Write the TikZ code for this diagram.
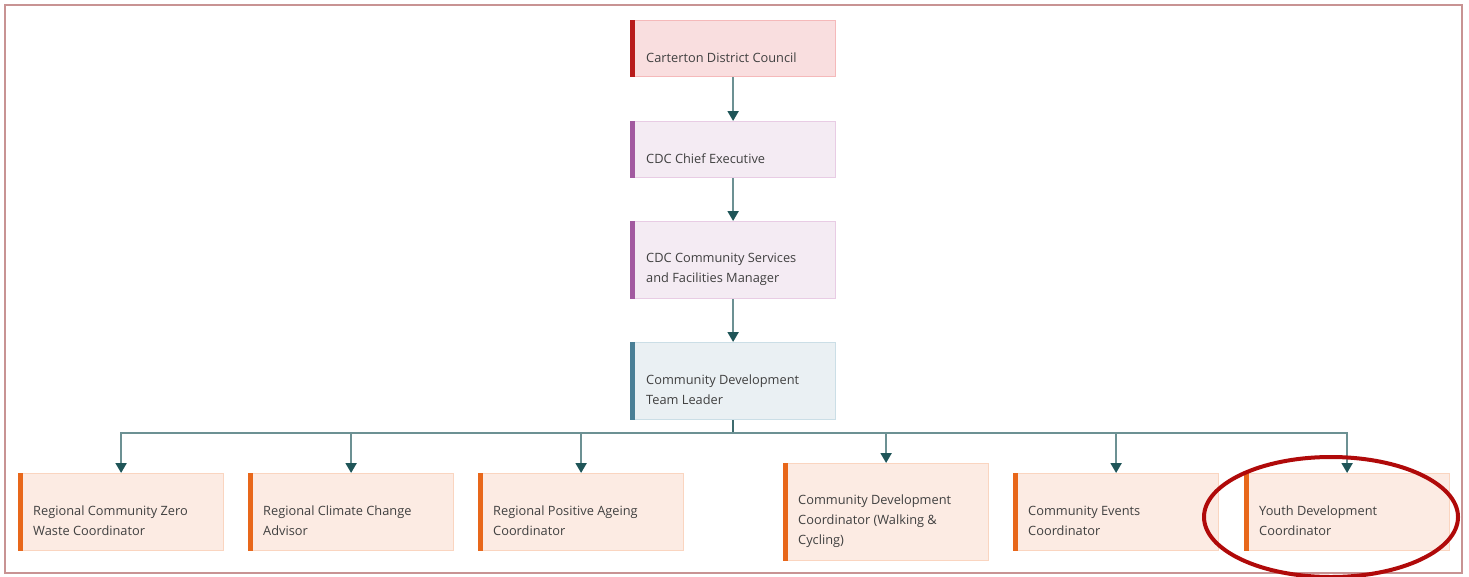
\documentclass[tikz,border=0pt]{standalone}
\usepackage{fontspec}
\setmainfont{Open Sans}
\usetikzlibrary{arrows.meta,calc}
\definecolor{txt}{HTML}{404040}
\definecolor{frameC}{HTML}{C89393}
\definecolor{lineC}{HTML}{6C9193}
\definecolor{tipC}{HTML}{1F5558}
\definecolor{busC}{HTML}{3E6B6E}
\definecolor{redF}{HTML}{F9DEDF}\definecolor{redD}{HTML}{F5B9BA}\definecolor{redB}{HTML}{B81C1C}
\definecolor{purF}{HTML}{F4EBF3}\definecolor{purD}{HTML}{E8CCE4}\definecolor{purB}{HTML}{A25AA0}
\definecolor{bluF}{HTML}{EAF0F3}\definecolor{bluD}{HTML}{CBDEE6}\definecolor{bluB}{HTML}{4A7F96}
\definecolor{orF}{HTML}{FCEBE3}\definecolor{orD}{HTML}{FAD5C0}\definecolor{orB}{HTML}{E8671A}
\definecolor{ellC}{HTML}{B00A0A}
\begin{document}
\begin{tikzpicture}[x=1pt,y=-1pt,
  box/.style={rectangle,minimum width=205pt,minimum height=56pt,inner sep=0pt,anchor=north west,line width=1.2pt},
  rbox/.style={box,fill=redF,draw=redD},
  pbox/.style={box,fill=purF,draw=purD},
  bbox/.style={box,fill=bluF,draw=bluD},
  obox/.style={box,fill=orF,draw=orD},
  lbl/.style={anchor=west,align=left,inner sep=0pt,text=txt,font=\fontsize{12.8}{20}\selectfont},
  conn/.style={draw=lineC,line width=2pt,-{Triangle[length=10pt,width=11pt,color=tipC]}},
  busline/.style={draw=busC,line width=2pt}]
\useasboundingbox (0,0) rectangle (1469,576);
\fill[white] (0,0) rectangle (1469,576);
\draw[frameC,line width=2.5pt] (5,5) rectangle (1462,573);

% top chain
\node[rbox] (b1) at (630,20) {};
\node[pbox] (b2) at (630,121) {};
\node[pbox,minimum height=77pt] (b3) at (630,221) {};
\node[bbox,minimum height=77pt] (b4) at (630,342) {};

% bottom row
\node[obox,minimum height=77pt] (c1) at (18,473) {};
\node[obox,minimum height=77pt] (c2) at (248,473) {};
\node[obox,minimum height=77pt] (c3) at (478,473) {};
\node[obox,minimum height=97pt] (c4) at (783,463) {};
\node[obox,minimum height=77pt] (c5) at (1013,473) {};
\node[obox,minimum height=77pt] (c6) at (1244,473) {};

% colour bars
\fill[redB] (b1.north west) rectangle ([xshift=5pt]b1.south west);
\foreach \n in {b2,b3}{\fill[purB] (\n.north west) rectangle ([xshift=5pt]\n.south west);}
\fill[bluB] (b4.north west) rectangle ([xshift=5pt]b4.south west);
\foreach \n in {c1,c2,c3,c4,c5,c6}{\fill[orB] (\n.north west) rectangle ([xshift=5pt]\n.south west);}

% labels
\node[lbl] (t1) at ($(b1.west)+(16,9)$) {Carterton District Council};
\node[lbl] (t2) at ($(b2.west)+(16,9)$) {CDC Chief Executive};
\node[lbl] (t3) at ($(b3.west)+(16,9)$) {CDC Community Services\\and Facilities Manager};
\node[lbl] (t4) at ($(b4.west)+(16,9)$) {Community Development\\Team Leader};
\node[lbl] (u1) at ($(c1.west)+(15,9)$) {Regional Community Zero\\Waste Coordinator};
\node[lbl] (u2) at ($(c2.west)+(15,9)$) {Regional Climate Change\\Advisor};
\node[lbl] (u3) at ($(c3.west)+(15,9)$) {Regional Positive Ageing\\Coordinator};
\node[lbl] (u4) at ($(c4.west)+(15,9)$) {Community Development\\Coordinator (Walking \&\\Cycling)};
\node[lbl] (u5) at ($(c5.west)+(15,9)$) {Community Events\\Coordinator};
\node[lbl] (u6) at ($(c6.west)+(15,9)$) {Youth Development\\Coordinator};

% connectors
\draw[conn] (b1.south) -- (b2.north);
\draw[conn] (b2.south) -- (b3.north);
\draw[conn] (b3.south) -- (b4.north);
\coordinate (bus) at (b4.south |- 0,433);
\draw[busline] (b4.south) -- (bus);
\foreach \n in {c1,c2,c3,c4,c5,c6}{\draw[conn] (bus) -| (\n.north);}

% highlight ellipse
\draw[ellC,line width=4pt] (1331,517) ellipse [x radius=127pt, y radius=60pt];
\end{tikzpicture}
\end{document}
